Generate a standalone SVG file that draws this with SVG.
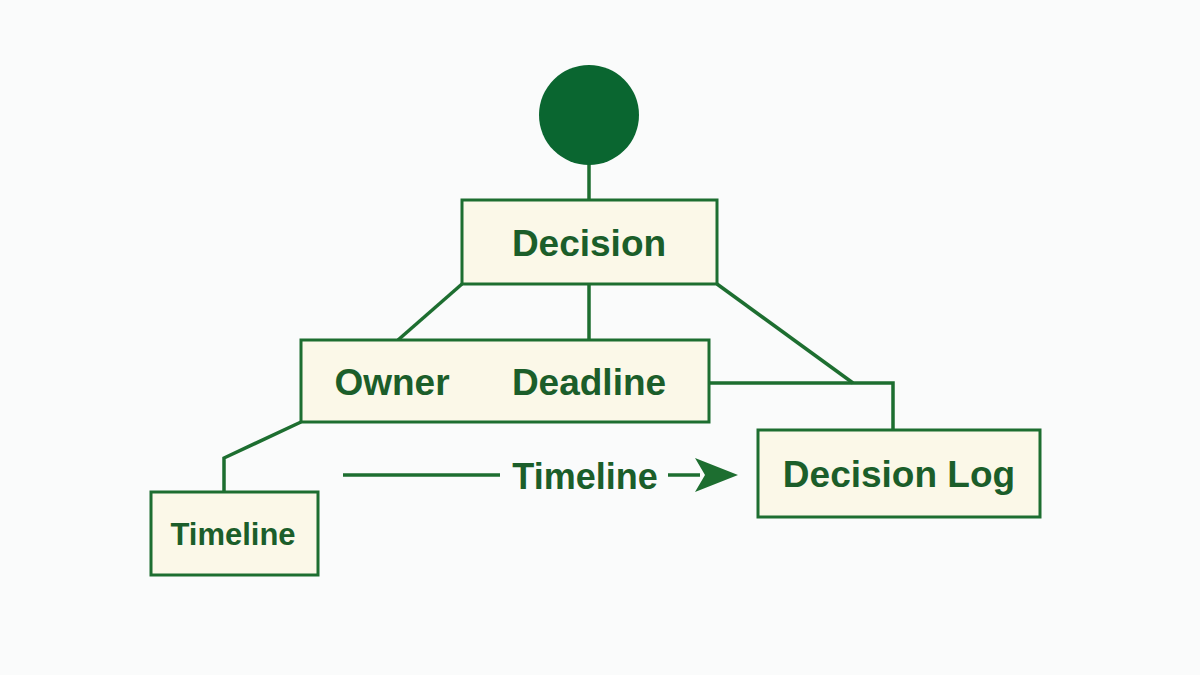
<svg xmlns="http://www.w3.org/2000/svg" width="1200" height="675" viewBox="0 0 1200 675">
<style>
.box{fill:#fbf8e8;stroke:#1d6e30;stroke-width:3}
.ln{stroke:#1d6e30;stroke-width:3.5;fill:none}
.t{font-family:"Liberation Sans",Arial,sans-serif;font-weight:bold;fill:#1b5e2a;text-anchor:middle;dominant-baseline:central}
</style>
<rect width="1200" height="675" fill="#fafbfb"/>
<g id="connectors">
<line class="ln" x1="589" y1="160" x2="589" y2="200"/>
<line class="ln" x1="462" y1="284" x2="398" y2="340"/>
<line class="ln" x1="589" y1="284" x2="589" y2="340"/>
<polyline class="ln" points="717,284 853,383"/>
<polyline class="ln" points="709,383 893,383 893,430"/>
<polyline class="ln" points="301,422 224,458 224,492"/>
<line class="ln" x1="343" y1="475" x2="500" y2="475"/>
<path d="M668,475 H700" class="ln"/>
<path d="M695,458 L738,475 L695,492 L705,475 z" fill="#1d6e30"/>
<text class="t" x="585" y="476" font-size="36">Timeline</text>
</g>
<g id="start"><circle cx="589" cy="115" r="50" fill="#0a6630"/></g>
<g id="decision"><rect class="box" x="462" y="200" width="255" height="84"/><text class="t" x="589" y="243" font-size="37">Decision</text></g>
<g id="owner-deadline"><rect class="box" x="301" y="340" width="408" height="82"/><text class="t" x="392" y="382" font-size="37">Owner</text><text class="t" x="589" y="382" font-size="37">Deadline</text></g>
<g id="decision-log"><rect class="box" x="758" y="430" width="282" height="87"/><text class="t" x="899" y="474" font-size="37">Decision Log</text></g>
<g id="timeline"><rect class="box" x="151" y="492" width="167" height="83"/><text class="t" x="233" y="534" font-size="31">Timeline</text></g>
</svg>
